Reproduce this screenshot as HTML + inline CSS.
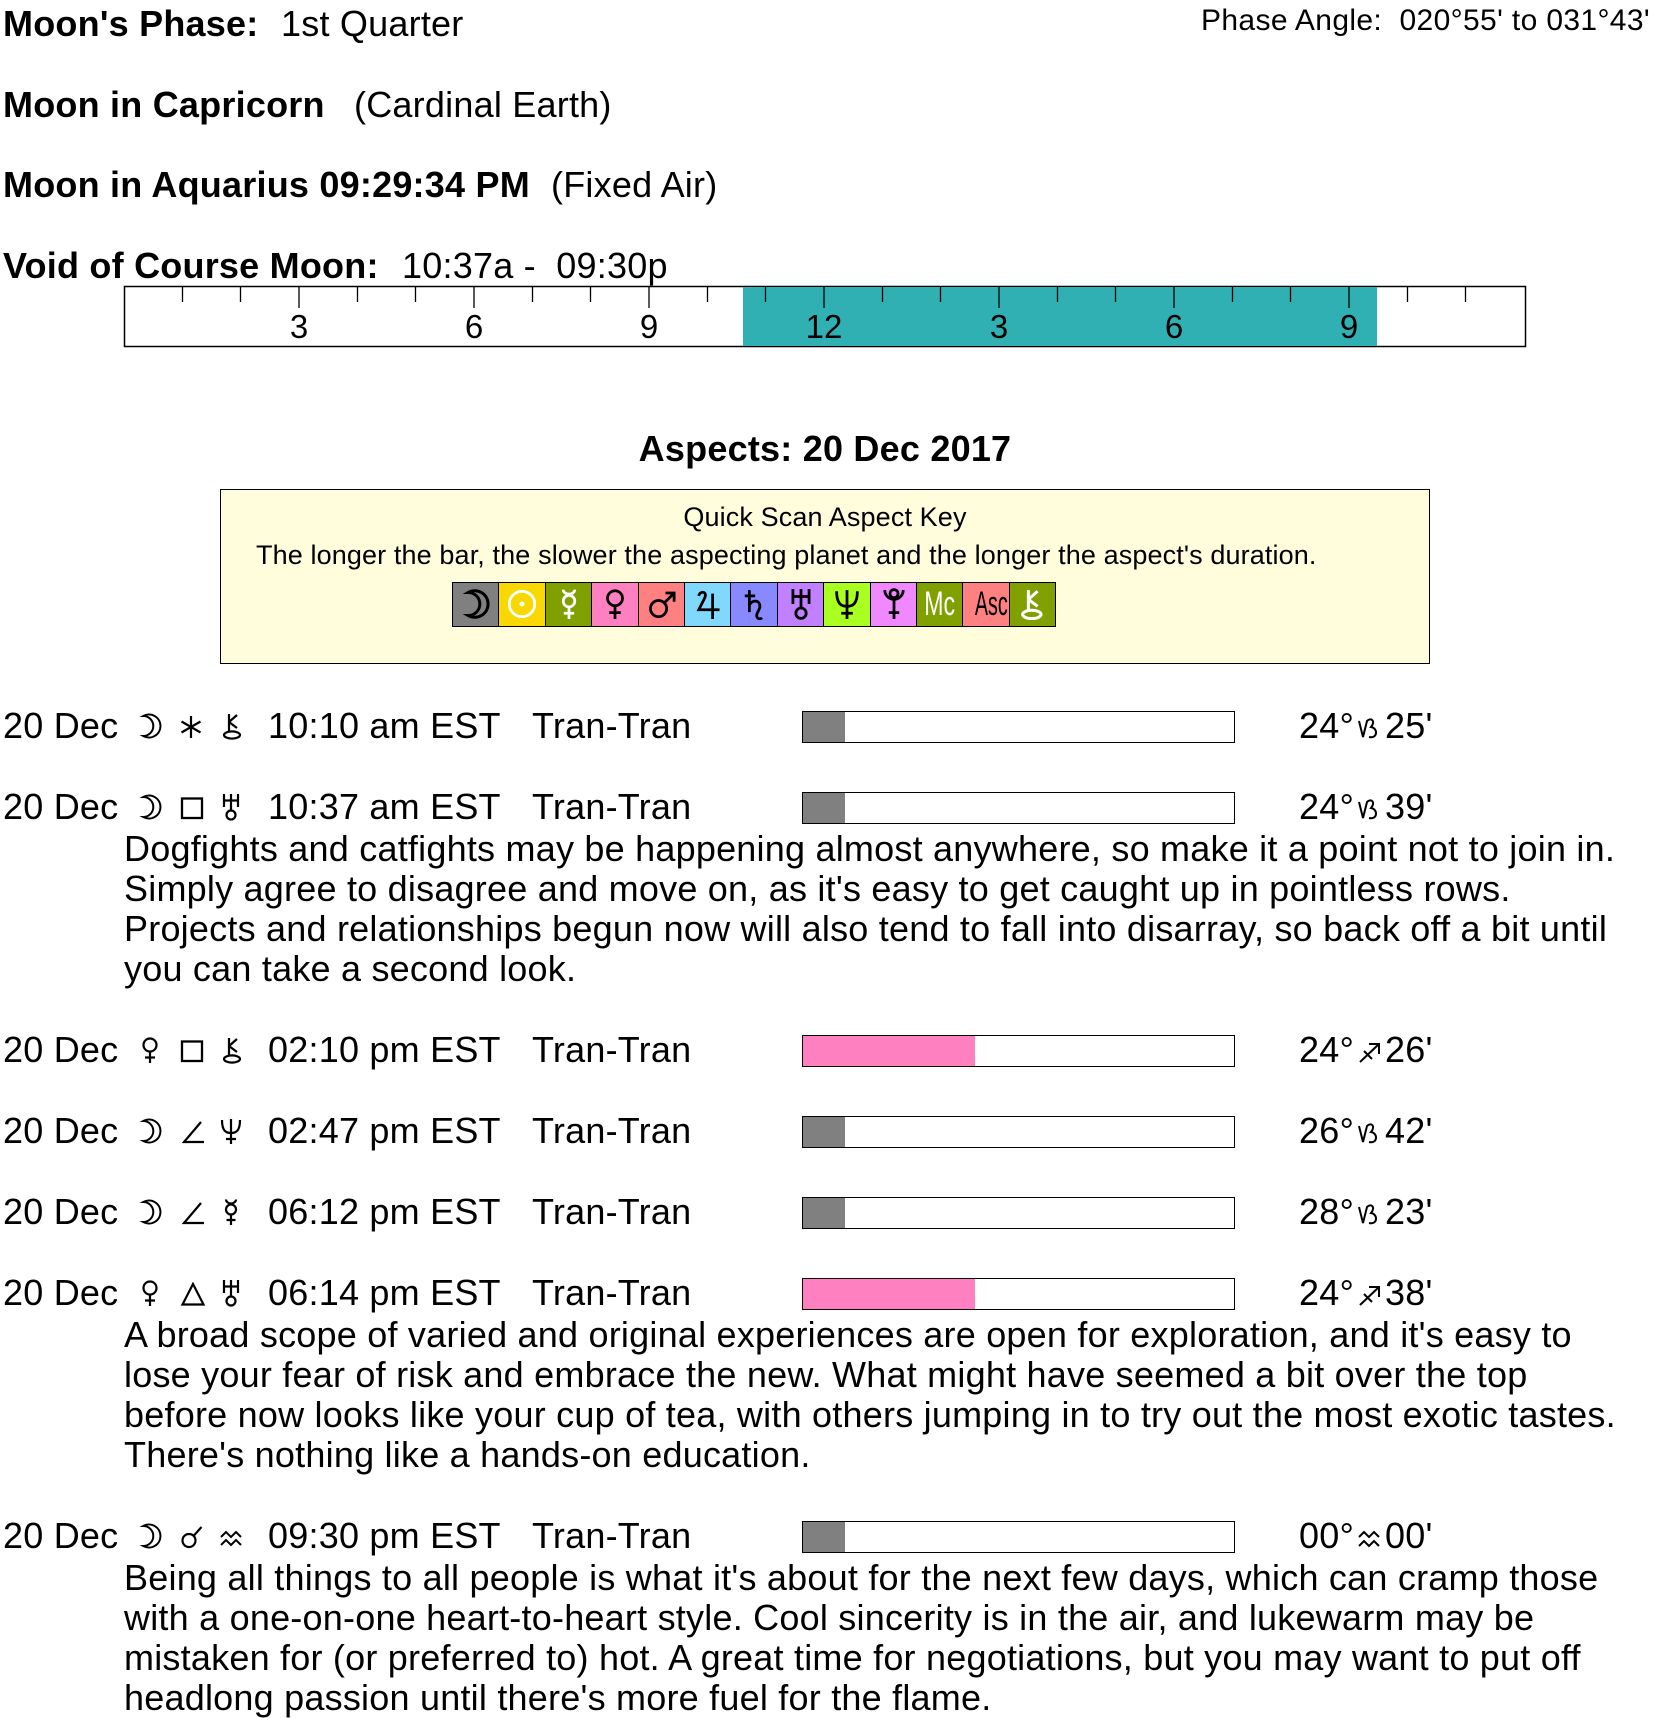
<!DOCTYPE html>
<html><head><meta charset="utf-8">
<style>
html,body{margin:0;padding:0;background:#fff;}
body{width:1656px;height:1716px;position:relative;overflow:hidden;font-family:"Liberation Sans",Arial,sans-serif;color:#000;}
.a{position:absolute;white-space:nowrap;font-size:36px;line-height:36px;letter-spacing:0.22px;}
.b{font-weight:bold;}
.row{position:absolute;left:0;width:1656px;height:36px;}
.t{position:absolute;top:0;white-space:nowrap;font-size:36px;line-height:36px;letter-spacing:0.22px;}
.ic{position:absolute;top:6.5px;}
.pl{position:absolute;top:3.5px;}
.sg{position:absolute;left:1357px;top:9px;}
.bar{position:absolute;left:802px;top:2.5px;width:433px;height:32px;border:1.5px solid #000;box-sizing:border-box;background:#fff;}
.bar div{position:absolute;left:0;top:0;height:100%;}
.gray{width:42px;background:#808080;}
.pink{width:172px;background:#ff80c0;}
.p{position:absolute;left:124px;white-space:nowrap;font-size:36px;line-height:36px;letter-spacing:0.22px;}
.key{position:absolute;left:220px;top:489px;width:1210px;height:175px;border:1.5px solid #000;box-sizing:border-box;background:#fffddc;}
.cells{position:absolute;left:452px;top:582px;width:604px;height:45px;border:1.5px solid #000;box-sizing:border-box;display:flex;}
.cells div{flex:1;border-left:1.5px solid #000;text-align:center;position:relative;overflow:hidden;}
.cells div:first-child{border-left:none;}
.cells svg{position:absolute;left:8px;top:4px;}
.mc{font-family:"Liberation Sans",sans-serif;font-size:34px;line-height:42px;display:inline-block;}
</style></head><body>

<!-- header -->
<div class="a b" style="left:3px;top:5.5px;">Moon's Phase:</div>
<div class="a" style="left:281px;top:5.5px;">1st Quarter</div>
<div class="a" style="left:1201px;top:5.6px;font-size:30px;line-height:30px;letter-spacing:0.36px;">Phase Angle:&nbsp; 020°55' to 031°43'</div>

<div class="a b" style="left:3px;top:86.5px;">Moon in Capricorn</div>
<div class="a" style="left:354px;top:86.5px;">(Cardinal Earth)</div>

<div class="a b" style="left:3px;top:167px;">Moon in Aquarius 09:29:34 PM</div>
<div class="a" style="left:551px;top:167px;">(Fixed Air)</div>

<!-- timeline -->
<svg style="position:absolute;left:0;top:0;" width="1656" height="360">
<rect x="124.5" y="286.5" width="1401" height="60" fill="#fff" stroke="#000" stroke-width="1.5"/>
<rect x="743" y="287" width="634" height="59" fill="#31b0b3"/>
<path stroke="#000" stroke-width="1.3" fill="none" d="M182.5 287v15 M240.5 287v15 M299 287v21 M357.5 287v15 M415.5 287v15 M474 287v21 M532.5 287v15 M590.5 287v15 M649 287v21 M707.5 287v15 M765.5 287v15 M824 287v21 M882.5 287v15 M940.5 287v15 M999 287v21 M1057.5 287v15 M1115.5 287v15 M1174 287v21 M1232.5 287v15 M1290.5 287v15 M1349 287v21 M1407.5 287v15 M1465.5 287v15"/>
<g font-family="Liberation Sans, Arial, sans-serif" font-size="33" text-anchor="middle" fill="#000">
<text x="299" y="338">3</text>
<text x="474" y="338">6</text>
<text x="649" y="338">9</text>
<text x="824" y="338">12</text>
<text x="999" y="338">3</text>
<text x="1174" y="338">6</text>
<text x="1349" y="338">9</text>
</g>
</svg>
<div class="a b" style="left:3px;top:247.5px;">Void of Course Moon:</div>
<div class="a" style="left:402px;top:247.5px;">10:37a -&nbsp; 09:30p</div>

<!-- title -->
<div class="a b" style="left:-3px;width:1656px;text-align:center;top:430.5px;">Aspects: 20 Dec 2017</div>

<!-- key -->
<div class="key"></div>
<div class="a" style="left:220px;width:1210px;text-align:center;top:504px;font-size:27px;line-height:27px;letter-spacing:0.12px;">Quick Scan Aspect Key</div>
<div class="a" style="left:256px;top:542px;font-size:27px;line-height:27px;letter-spacing:0.12px;">The longer the bar, the slower the aspecting planet and the longer the aspect's duration.</div>
<div class="cells">
<div style="background:#808080;"><svg width="30" height="34" viewBox="0 0 26 28"><path d="M6.3 4 A11.5 11.5 0 1 1 6.3 24 A10 10 0 0 0 6.3 4 Z" stroke="#000" stroke-width="2.6" fill="none"/></svg></div>
<div style="background:#f8d800;"><svg width="30" height="34" viewBox="0 0 26 28"><g stroke="#fff" stroke-width="2.4" fill="none"><circle cx="13" cy="14" r="11"/></g><circle cx="13" cy="14" r="2.2" fill="#fff"/></svg></div>
<div style="background:#80a000;"><svg width="30" height="34" viewBox="0 0 26 28"><g stroke="#fff" stroke-width="2.4" fill="none"><path d="M8 1.5 A5 4 0 0 0 18 1.5"/><circle cx="13" cy="11.5" r="5"/><path d="M13 16.5V27 M8.5 22H17.5"/></g></svg></div>
<div style="background:#ff80c0;"><svg width="30" height="34" viewBox="0 0 26 28"><g stroke="#000" stroke-width="2.4" fill="none"><circle cx="13" cy="9" r="6.5"/><path d="M13 15.5V27 M8 21.5H18"/></g></svg></div>
<div style="background:#ff8080;"><svg width="30" height="34" viewBox="0 0 26 28"><g stroke="#000" stroke-width="2.4" fill="none"><circle cx="10" cy="18" r="7"/><path d="M15 13 L23 5 M16 4.5H23.5V12"/></g></svg></div>
<div style="background:#80d8ff;"><svg width="30" height="34" viewBox="0 0 26 28"><g stroke="#000" stroke-width="2.4" fill="none"><path d="M5 7 C6 2 13 3 10 9 L5 19 H23 M17 5V27"/></g></svg></div>
<div style="background:#8888ff;"><svg width="30" height="34" viewBox="0 0 26 28"><g stroke="#000" stroke-width="2.4" fill="none"><path d="M9 2V21 M5 7H14 M9 15 C11 10 19 10 18 17 C17 21 14 23 16 26 C17 27 19 27 20 26"/></g></svg></div>
<div style="background:#c080ff;"><svg width="30" height="34" viewBox="0 0 26 28"><g stroke="#000" stroke-width="2.4" fill="none"><path d="M6 1V14 M20 1V14 M6 7.5H20 M13 1V17.5"/><circle cx="13" cy="22" r="4.5"/></g></svg></div>
<div style="background:#a8ff20;"><svg width="30" height="34" viewBox="0 0 26 28"><g stroke="#000" stroke-width="2.4" fill="none"><path d="M4 3C4 14 8 16 13 16 C18 16 22 14 22 3 M13 2V27 M8 22H18"/></g></svg></div>
<div style="background:#f088ff;"><svg width="30" height="34" viewBox="0 0 26 28"><g stroke="#000" stroke-width="2.4" fill="none"><path d="M5 2 A8 8 0 0 0 21 2"/><circle cx="13" cy="5" r="3.5"/><path d="M13 10V27 M8.5 21.5H17.5"/></g></svg></div>
<div style="background:#80a000;color:#fff;"><span class="mc" style="transform:scaleX(0.68);">Mc</span></div>
<div style="background:#ff8080;color:#000;"><span class="mc" style="transform:scaleX(0.58);">Asc</span></div>
<div style="background:#80a000;"><svg width="30" height="34" viewBox="0 0 26 28"><g stroke="#fff" stroke-width="2.6" fill="none"><ellipse cx="12" cy="23" rx="8" ry="3.6"/><path d="M9 19.4V2 M9 10 L17 3 M9 10 L17 16"/></g></svg></div>
</div>

<!-- row 1 -->
<div class="row" style="top:708px;">
<span class="t" style="left:3px;">20 Dec</span>
<svg class="pl" style="left:137px;" width="26" height="28" viewBox="0 0 26 28"><path d="M6.3 4 A11.5 11.5 0 1 1 6.3 24 A10 10 0 0 0 6.3 4 Z" stroke="#000" stroke-width="2" fill="none"/></svg>
<svg class="ic" style="left:179px;" width="24" height="24" viewBox="0 0 24 24"><g stroke="#000" stroke-width="2.2" fill="none"><path d="M12 1V23 M2.5 6.5L21.5 17.5 M2.5 17.5L21.5 6.5"/></g></svg>
<svg class="pl" style="left:220px;" width="26" height="28" viewBox="0 0 26 28"><g stroke="#000" stroke-width="2.2" fill="none"><ellipse cx="12" cy="23" rx="8" ry="3.6"/><path d="M9 19.4V2 M9 10 L17 3 M9 10 L17 16"/></g></svg>
<span class="t" style="left:268px;">10:10 am EST</span>
<span class="t" style="left:532px;">Tran-Tran</span>
<div class="bar"><div class="gray"></div></div>
<span class="t" style="left:1299px;">24°</span>
<svg class="sg" width="26" height="22" viewBox="0 0 26 22"><path d="M2 4 L6 20 L10 4 C14 0 19 4 14 10 C21 11 21 22 12 20" stroke="#000" stroke-width="2" fill="none"/></svg>
<span class="t" style="left:1385px;">25'</span>
</div>

<!-- row 2 -->
<div class="row" style="top:789px;">
<span class="t" style="left:3px;">20 Dec</span>
<svg class="pl" style="left:137px;" width="26" height="28" viewBox="0 0 26 28"><path d="M6.3 4 A11.5 11.5 0 1 1 6.3 24 A10 10 0 0 0 6.3 4 Z" stroke="#000" stroke-width="2" fill="none"/></svg>
<svg class="ic" style="left:180px;" width="24" height="24" viewBox="0 0 24 24"><rect x="2" y="2.5" width="20" height="19.5" stroke="#000" stroke-width="2.3" fill="none"/></svg>
<svg class="pl" style="left:218px;" width="26" height="28" viewBox="0 0 26 28"><g stroke="#000" stroke-width="2.2" fill="none"><path d="M6 1V14 M20 1V14 M6 7.5H20 M13 1V17.5"/><circle cx="13" cy="22" r="4.5"/></g></svg>
<span class="t" style="left:268px;">10:37 am EST</span>
<span class="t" style="left:532px;">Tran-Tran</span>
<div class="bar"><div class="gray"></div></div>
<span class="t" style="left:1299px;">24°</span>
<svg class="sg" width="26" height="22" viewBox="0 0 26 22"><path d="M2 4 L6 20 L10 4 C14 0 19 4 14 10 C21 11 21 22 12 20" stroke="#000" stroke-width="2" fill="none"/></svg>
<span class="t" style="left:1385px;">39'</span>
</div>
<div class="p" style="top:831px;">Dogfights and catfights may be happening almost anywhere, so make it a point not to join in.</div>
<div class="p" style="top:871px;">Simply agree to disagree and move on, as it's easy to get caught up in pointless rows.</div>
<div class="p" style="top:911px;">Projects and relationships begun now will also tend to fall into disarray, so back off a bit until</div>
<div class="p" style="top:951px;">you can take a second look.</div>

<!-- row 3 -->
<div class="row" style="top:1032px;">
<span class="t" style="left:3px;">20 Dec</span>
<svg class="pl" style="left:137px;" width="26" height="28" viewBox="0 0 26 28"><g stroke="#000" stroke-width="2.2" fill="none"><circle cx="13" cy="9" r="6.5"/><path d="M13 15.5V27 M8 21.5H18"/></g></svg>
<svg class="ic" style="left:180px;" width="24" height="24" viewBox="0 0 24 24"><rect x="2" y="2.5" width="20" height="19.5" stroke="#000" stroke-width="2.3" fill="none"/></svg>
<svg class="pl" style="left:220px;" width="26" height="28" viewBox="0 0 26 28"><g stroke="#000" stroke-width="2.2" fill="none"><ellipse cx="12" cy="23" rx="8" ry="3.6"/><path d="M9 19.4V2 M9 10 L17 3 M9 10 L17 16"/></g></svg>
<span class="t" style="left:268px;">02:10 pm EST</span>
<span class="t" style="left:532px;">Tran-Tran</span>
<div class="bar"><div class="pink"></div></div>
<span class="t" style="left:1299px;">24°</span>
<svg class="sg" width="26" height="22" viewBox="0 0 26 22"><path d="M3 21 L22 3 M12 3 H22 V13 M7 10 L15 18" stroke="#000" stroke-width="2" fill="none"/></svg>
<span class="t" style="left:1385px;">26'</span>
</div>

<!-- row 4 -->
<div class="row" style="top:1113px;">
<span class="t" style="left:3px;">20 Dec</span>
<svg class="pl" style="left:137px;" width="26" height="28" viewBox="0 0 26 28"><path d="M6.3 4 A11.5 11.5 0 1 1 6.3 24 A10 10 0 0 0 6.3 4 Z" stroke="#000" stroke-width="2" fill="none"/></svg>
<svg class="ic" style="left:181px;" width="24" height="24" viewBox="0 0 24 24"><path d="M20 2 L3 22 H23" stroke="#000" stroke-width="2.2" fill="none"/></svg>
<svg class="pl" style="left:218px;" width="26" height="28" viewBox="0 0 26 28"><g stroke="#000" stroke-width="2.2" fill="none"><path d="M4 3C4 14 8 16 13 16 C18 16 22 14 22 3 M13 2V27 M8 22H18"/></g></svg>
<span class="t" style="left:268px;">02:47 pm EST</span>
<span class="t" style="left:532px;">Tran-Tran</span>
<div class="bar"><div class="gray"></div></div>
<span class="t" style="left:1299px;">26°</span>
<svg class="sg" width="26" height="22" viewBox="0 0 26 22"><path d="M2 4 L6 20 L10 4 C14 0 19 4 14 10 C21 11 21 22 12 20" stroke="#000" stroke-width="2" fill="none"/></svg>
<span class="t" style="left:1385px;">42'</span>
</div>

<!-- row 5 -->
<div class="row" style="top:1194px;">
<span class="t" style="left:3px;">20 Dec</span>
<svg class="pl" style="left:137px;" width="26" height="28" viewBox="0 0 26 28"><path d="M6.3 4 A11.5 11.5 0 1 1 6.3 24 A10 10 0 0 0 6.3 4 Z" stroke="#000" stroke-width="2" fill="none"/></svg>
<svg class="ic" style="left:181px;" width="24" height="24" viewBox="0 0 24 24"><path d="M20 2 L3 22 H23" stroke="#000" stroke-width="2.2" fill="none"/></svg>
<svg class="pl" style="left:218px;" width="26" height="28" viewBox="0 0 26 28"><g stroke="#000" stroke-width="2.2" fill="none"><path d="M8 1.5 A5 4 0 0 0 18 1.5"/><circle cx="13" cy="11.5" r="5"/><path d="M13 16.5V27 M8.5 22H17.5"/></g></svg>
<span class="t" style="left:268px;">06:12 pm EST</span>
<span class="t" style="left:532px;">Tran-Tran</span>
<div class="bar"><div class="gray"></div></div>
<span class="t" style="left:1299px;">28°</span>
<svg class="sg" width="26" height="22" viewBox="0 0 26 22"><path d="M2 4 L6 20 L10 4 C14 0 19 4 14 10 C21 11 21 22 12 20" stroke="#000" stroke-width="2" fill="none"/></svg>
<span class="t" style="left:1385px;">23'</span>
</div>

<!-- row 6 -->
<div class="row" style="top:1275px;">
<span class="t" style="left:3px;">20 Dec</span>
<svg class="pl" style="left:137px;" width="26" height="28" viewBox="0 0 26 28"><g stroke="#000" stroke-width="2.2" fill="none"><circle cx="13" cy="9" r="6.5"/><path d="M13 15.5V27 M8 21.5H18"/></g></svg>
<svg class="ic" style="left:180px;" width="26" height="24" viewBox="0 0 26 24"><path d="M13 2 L2.5 22.5 H23.5 Z" stroke="#000" stroke-width="2.2" fill="none"/></svg>
<svg class="pl" style="left:218px;" width="26" height="28" viewBox="0 0 26 28"><g stroke="#000" stroke-width="2.2" fill="none"><path d="M6 1V14 M20 1V14 M6 7.5H20 M13 1V17.5"/><circle cx="13" cy="22" r="4.5"/></g></svg>
<span class="t" style="left:268px;">06:14 pm EST</span>
<span class="t" style="left:532px;">Tran-Tran</span>
<div class="bar"><div class="pink"></div></div>
<span class="t" style="left:1299px;">24°</span>
<svg class="sg" width="26" height="22" viewBox="0 0 26 22"><path d="M3 21 L22 3 M12 3 H22 V13 M7 10 L15 18" stroke="#000" stroke-width="2" fill="none"/></svg>
<span class="t" style="left:1385px;">38'</span>
</div>
<div class="p" style="top:1317px;">A broad scope of varied and original experiences are open for exploration, and it's easy to</div>
<div class="p" style="top:1357px;">lose your fear of risk and embrace the new. What might have seemed a bit over the top</div>
<div class="p" style="top:1397px;">before now looks like your cup of tea, with others jumping in to try out the most exotic tastes.</div>
<div class="p" style="top:1437px;">There's nothing like a hands-on education.</div>

<!-- row 7 -->
<div class="row" style="top:1518px;">
<span class="t" style="left:3px;">20 Dec</span>
<svg class="pl" style="left:137px;" width="26" height="28" viewBox="0 0 26 28"><path d="M6.3 4 A11.5 11.5 0 1 1 6.3 24 A10 10 0 0 0 6.3 4 Z" stroke="#000" stroke-width="2" fill="none"/></svg>
<svg class="ic" style="left:180px;" width="24" height="24" viewBox="0 0 24 24"><g stroke="#000" stroke-width="2.2" fill="none"><circle cx="9" cy="15.5" r="6.5"/><path d="M13.6 10.9 L21.5 2"/></g></svg>
<svg class="ic" style="left:219px;top:10px;" width="26" height="20" viewBox="0 0 26 20"><path d="M2 9 L7 4 L12 9 L17 4 L22 9 M2 17 L7 12 L12 17 L17 12 L22 17" stroke="#000" stroke-width="2" fill="none"/></svg>
<span class="t" style="left:268px;">09:30 pm EST</span>
<span class="t" style="left:532px;">Tran-Tran</span>
<div class="bar"><div class="gray"></div></div>
<span class="t" style="left:1299px;">00°</span>
<svg class="sg" width="26" height="22" viewBox="0 0 26 22"><path d="M2 10 L7 5 L12 10 L17 5 L22 10 M2 19 L7 14 L12 19 L17 14 L22 19" stroke="#000" stroke-width="2" fill="none"/></svg>
<span class="t" style="left:1385px;">00'</span>
</div>
<div class="p" style="top:1560px;">Being all things to all people is what it's about for the next few days, which can cramp those</div>
<div class="p" style="top:1600px;">with a one-on-one heart-to-heart style. Cool sincerity is in the air, and lukewarm may be</div>
<div class="p" style="top:1640px;">mistaken for (or preferred to) hot. A great time for negotiations, but you may want to put off</div>
<div class="p" style="top:1680px;">headlong passion until there's more fuel for the flame.</div>

</body></html>
